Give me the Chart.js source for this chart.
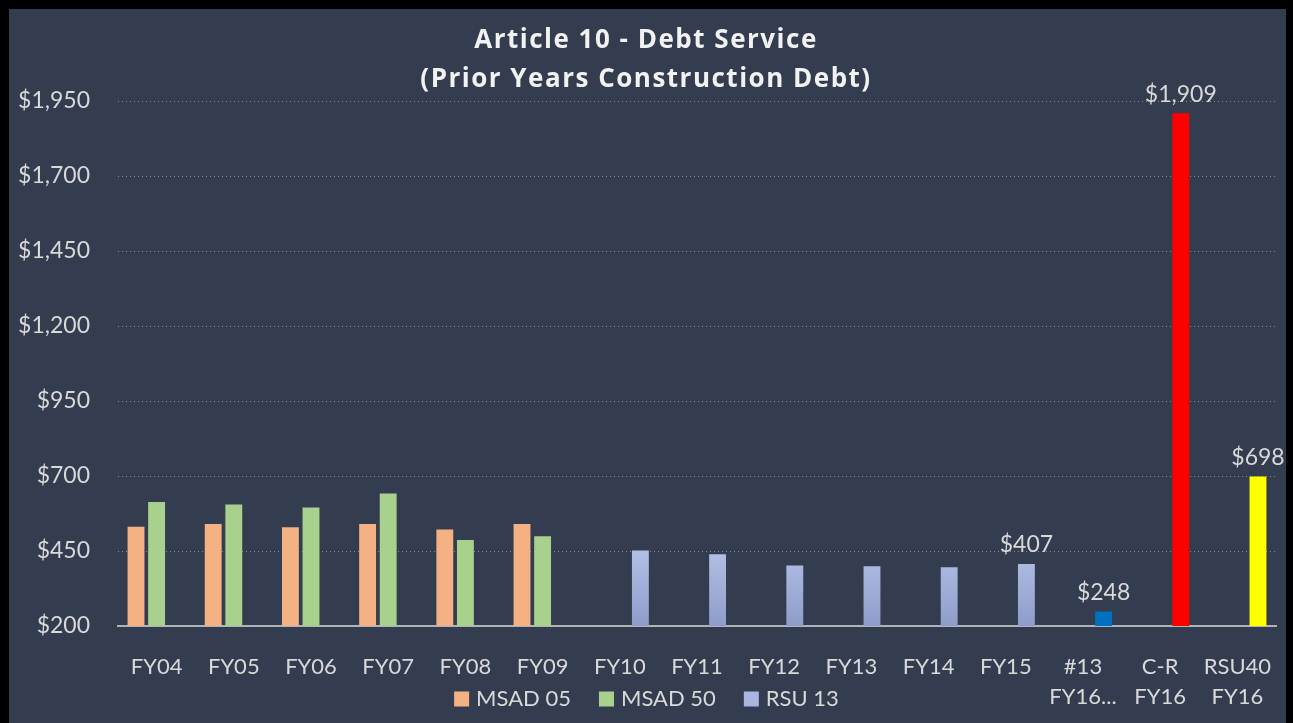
<!DOCTYPE html>
<html>
<head>
<meta charset="utf-8">
<script src="https://cdn.jsdelivr.net/npm/chart.js@4"></script>
<style>
  html, body { margin: 0; padding: 0; background: #000; }
  #wrap { position: absolute; left: 0; top: 0; width: 1293px; height: 723px; }
</style>
</head>
<body>
<div id="wrap"><canvas id="grafico"></canvas></div>
<script>
const categorias = [['FY04'], ['FY05'], ['FY06'], ['FY07'], ['FY08'], ['FY09'], ['FY10'], ['FY11'],
  ['FY12'], ['FY13'], ['FY14'], ['FY15'], ['#13', 'FY16...'], ['C-R', 'FY16'], ['RSU40', 'FY16']];
const msad05 = [531, 540, 529, 540, 522, 540, null, null, null, null, null, null, null, null, null];
const msad50 = [613, 605, 595, 642, 487, 499, null, null, null, null, null, null, null, null, null];
const rsu13 = [null, null, null, null, null, null, 452, 439, 402, 399, 396, 407, 248, 1909, 698];
const comRotulo = [11, 12, 13, 14]; // índices que mostram o valor
const ticksY = { min: 200, max: 1950, passo: 250 };

const corTexto = '#d9d9d9';
const fonte = 'Lato, "Open Sans", sans-serif';

const fmt = v => '$' + v.toLocaleString('en-US');

const gradienteRsu = (ctx) => {
  const { chart, dataIndex } = ctx;
  if (dataIndex === 12) return '#0070c0';
  if (dataIndex === 13) return '#ff0000';
  if (dataIndex === 14) return '#ffff00';
  const area = chart.chartArea;
  if (!area) return '#b4c2e8';
  const g = chart.ctx.createLinearGradient(0, area.bottom, 0, area.bottom - 80);
  g.addColorStop(0, '#8e9cc9');
  g.addColorStop(1, '#b4c2e8');
  return g;
};

const fundo = {
  id: 'fundo',
  beforeDraw(chart) {
    const c = chart.ctx;
    c.save();
    c.fillStyle = '#000';
    c.fillRect(0, 0, chart.width, chart.height);
    c.fillStyle = '#333d4f';
    c.fillRect(9, 9, 1277, chart.height - 9);
    c.restore();
  }
};

const rotulos = {
  id: 'rotulos',
  afterDatasetsDraw(chart) {
    const c = chart.ctx;
    const meta = chart.getDatasetMeta(2);
    c.save();
    c.font = '23px ' + fonte;
    c.fillStyle = corTexto;
    c.textAlign = 'center';
    c.textBaseline = 'middle';
    comRotulo.forEach(i => {
      const bar = meta.data[i];
      c.fillText(fmt(rsu13[i]), bar.x, bar.y - 19);
    });
    c.restore();
  }
};

const legenda = {
  id: 'legenda',
  afterDraw(chart) {
    const c = chart.ctx;
    const y = chart.chartArea.bottom + 73;
    const cores = ['#f4b183', '#a9d18e', '#aab6e0'];
    c.save();
    c.font = '22px ' + fonte;
    c.textBaseline = 'middle';
    const itens = chart.data.datasets.map((d, i) => ({ txt: d.label, cor: cores[i], w: c.measureText(d.label).width }));
    const total = itens.reduce((s, it) => s + 15 + 7 + it.w, 0) + 28 * (itens.length - 1);
    let x = chart.width / 2 - total / 2;
    itens.forEach(it => {
      c.fillStyle = it.cor;
      c.fillRect(x, y - 7.5, 15, 15);
      x += 22;
      c.fillStyle = corTexto;
      c.fillText(it.txt, x, y);
      x += it.w + 28;
    });
    c.restore();
  }
};

const grafico = new Chart(document.getElementById('grafico').getContext('2d'), {
  type: 'bar',
  data: {
    labels: categorias,
    datasets: [
      { label: 'MSAD 05', data: msad05, backgroundColor: '#f4b183' },
      { label: 'MSAD 50', data: msad50, backgroundColor: '#a9d18e' },
      { label: 'RSU 13', data: rsu13, backgroundColor: gradienteRsu }
    ]
  },
  options: {
    responsive: true,
    maintainAspectRatio: false,
    animation: false,
    categoryPercentage: 0.8,
    barPercentage: 0.82,
    layout: { padding: { left: 16, right: 17, top: 0, bottom: 0 } },
    scales: {
      x: {
        grid: { display: false },
        border: { color: '#b0b3ba', width: 2 },
        ticks: { color: corTexto, font: { family: fonte, size: 22, lineHeight: 1.36 }, padding: 18, maxRotation: 0, autoSkip: false },
        afterFit: s => { s.height = 97; }
      },
      y: {
        min: ticksY.min,
        max: ticksY.max,
        border: { display: false, dash: [1, 3] },
        grid: { color: 'rgba(255,255,255,0.4)', lineWidth: 1, drawTicks: false },
        ticks: { stepSize: ticksY.passo, color: corTexto, font: { family: fonte, size: 23 }, padding: 28, callback: v => fmt(v) },
        afterFit: s => { s.width = 102; }
      }
    },
    plugins: {
      legend: { display: false },
      tooltip: { enabled: false },
      title: {
        display: true,
        text: ['Article 10 - Debt Service', '(Prior Years Construction Debt)'],
        color: '#f2f2f2',
        font: { family: '"Open Sans", Lato, sans-serif', size: 26, weight: 'bold', lineHeight: 1.5 },
        padding: { top: 21, bottom: 2 }
      }
    }
  },
  plugins: [fundo, rotulos, legenda]
});

// título com espaçamento entre letras, como no original
const desenhaTitulo = grafico.titleBlock.draw.bind(grafico.titleBlock);
grafico.titleBlock.draw = function () {
  const c = grafico.ctx;
  const antes = c.letterSpacing;
  c.letterSpacing = '1.5px';
  desenhaTitulo();
  c.letterSpacing = antes || '0px';
};
grafico.draw();
</script>
</body>
</html>
